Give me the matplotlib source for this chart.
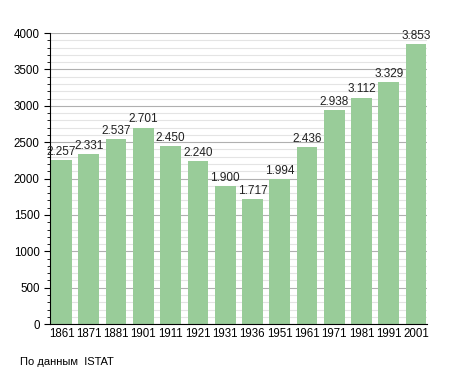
import matplotlib.pyplot as plt
from matplotlib.ticker import MultipleLocator

plt.rcParams["font.family"] = ["Liberation Sans", "DejaVu Sans"]

years = ["1861", "1871", "1881", "1901", "1911", "1921", "1931",
         "1936", "1951", "1961", "1971", "1981", "1991", "2001"]
population = [2257, 2331, 2537, 2701, 2450, 2240, 1900,
              1717, 1994, 2436, 2938, 3112, 3329, 3853]
source_note = "По данным  ISTAT"

fig = plt.figure(figsize=(4.55, 3.73), dpi=100)
ax = fig.add_axes([0.11, 0.131, 0.8285, 0.7805])

x = range(len(years))
ax.bar(x, population, width=0.76, color="#99cc99", zorder=2)

# value labels with dot as thousands separator
for xi, v in zip(x, population):
    label = f"{v:,}".replace(",", ".")
    ax.text(xi, v + 30, label, ha="center", va="bottom", fontsize=8.5, color="#222222", zorder=3)

ax.set_xlim(-0.42, 13.4)
ax.set_ylim(0, 4000)
ax.set_xticks(list(x))
ax.set_xticklabels(years)
ax.yaxis.set_major_locator(MultipleLocator(500))
ax.yaxis.set_minor_locator(MultipleLocator(100))
ax.grid(axis="y", which="major", color="#b0b0b0", linewidth=0.8, zorder=0)
ax.grid(axis="y", which="minor", color="#e4e4e4", linewidth=0.8, zorder=0)
ax.tick_params(axis="x", length=0, labelsize=8.3, pad=3)
ax.tick_params(axis="y", which="major", length=4, labelsize=8.3)
ax.tick_params(axis="y", which="minor", length=2.5)
for side in ("top", "right"):
    ax.spines[side].set_visible(False)

fig.text(20 / 455, 1 - 362 / 373, source_note, fontsize=8, va="center", ha="left")

fig.savefig("out.png", dpi=100)
